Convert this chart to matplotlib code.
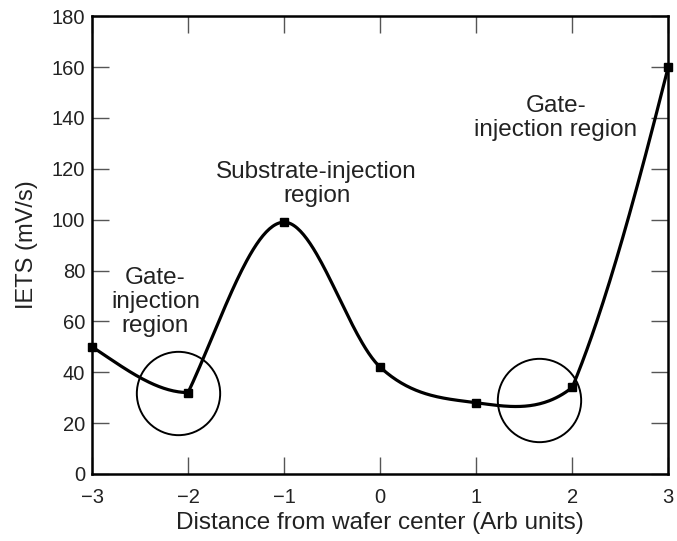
import numpy as np
import matplotlib
matplotlib.use("Agg")
import matplotlib.pyplot as plt

# Data
x_pts = [-3, -2, -1, 0, 1, 2, 3]
y_pts = [50, 32, 99, 42, 28, 34, 160]
# tangent slopes (left / right) for the smooth curve through the points
slope_left = [-25, 0, 0, -35, -5, 30, 150]
slope_right = [-25, 80, 0, -35, -5, 90, 150]

circle_x = [-2.1, 1.65]
circle_y = [32, 29]

x_ticks = [-3, -2, -1, 0, 1, 2, 3]
x_ticklabels = ["\u22123", "\u22122", "\u22121", "0", "1", "2", "3"]
y_ticks = [0, 20, 40, 60, 80, 100, 120, 140, 160, 180]

annotations = [
    ("Gate-\ninjection\nregion", -2.34, 67.5),
    ("Substrate-injection\nregion", -0.66, 114),
    ("Gate-\ninjection region", 1.83, 140),
]

plt.rcParams['font.family'] = ['Liberation Sans', 'DejaVu Sans']

fig = plt.figure(figsize=(6.77, 5.41), dpi=100)
ax = fig.add_axes([0.136, 0.124, 0.851, 0.846])

# smooth curve: cubic Hermite segments between consecutive data points
xs_all, ys_all = [], []
for i in range(len(x_pts) - 1):
    x0, x1 = x_pts[i], x_pts[i + 1]
    y0, y1 = y_pts[i], y_pts[i + 1]
    h = x1 - x0
    m0, m1 = slope_right[i], slope_left[i + 1]
    t = np.linspace(0, 1, 60)
    h00 = 2 * t**3 - 3 * t**2 + 1
    h10 = t**3 - 2 * t**2 + t
    h01 = -2 * t**3 + 3 * t**2
    h11 = t**3 - t**2
    xs_all.append(x0 + t * h)
    ys_all.append(h00 * y0 + h10 * h * m0 + h01 * y1 + h11 * h * m1)
ax.plot(np.concatenate(xs_all), np.concatenate(ys_all), color='black', lw=2.3,
        solid_capstyle='round', solid_joinstyle='round', zorder=3)
ax.plot(x_pts, y_pts, 's', color='black', ms=6, zorder=4, clip_on=False)

ax.plot(circle_x, circle_y, 'o', mfc='none', mec='black', ms=60, mew=1.4, zorder=2)

for txt, tx, ty in annotations:
    ax.text(tx, ty, txt, ha='center', va='center', fontsize=17.5, linespacing=1.12,
            color='#222222')

ax.set_xlim(-3, 3)
ax.set_ylim(0, 180)
ax.set_xticks(x_ticks)
ax.set_xticklabels(x_ticklabels)
ax.set_yticks(y_ticks)
ax.tick_params(direction='in', length=12, width=1, color='#555555', labelsize=14.5,
               top=True, right=True, pad=5, labelcolor='#222222')
ax.tick_params(axis='x', pad=10)
for s in ax.spines.values():
    s.set_linewidth(1.8)

ax.set_xlabel("Distance from wafer center (Arb units)", fontsize=17.5, labelpad=4,
              color='#222222')
ax.set_ylabel("IETS (mV/s)", fontsize=17, labelpad=10, color='#222222')

fig.savefig("out.png", dpi=100)
